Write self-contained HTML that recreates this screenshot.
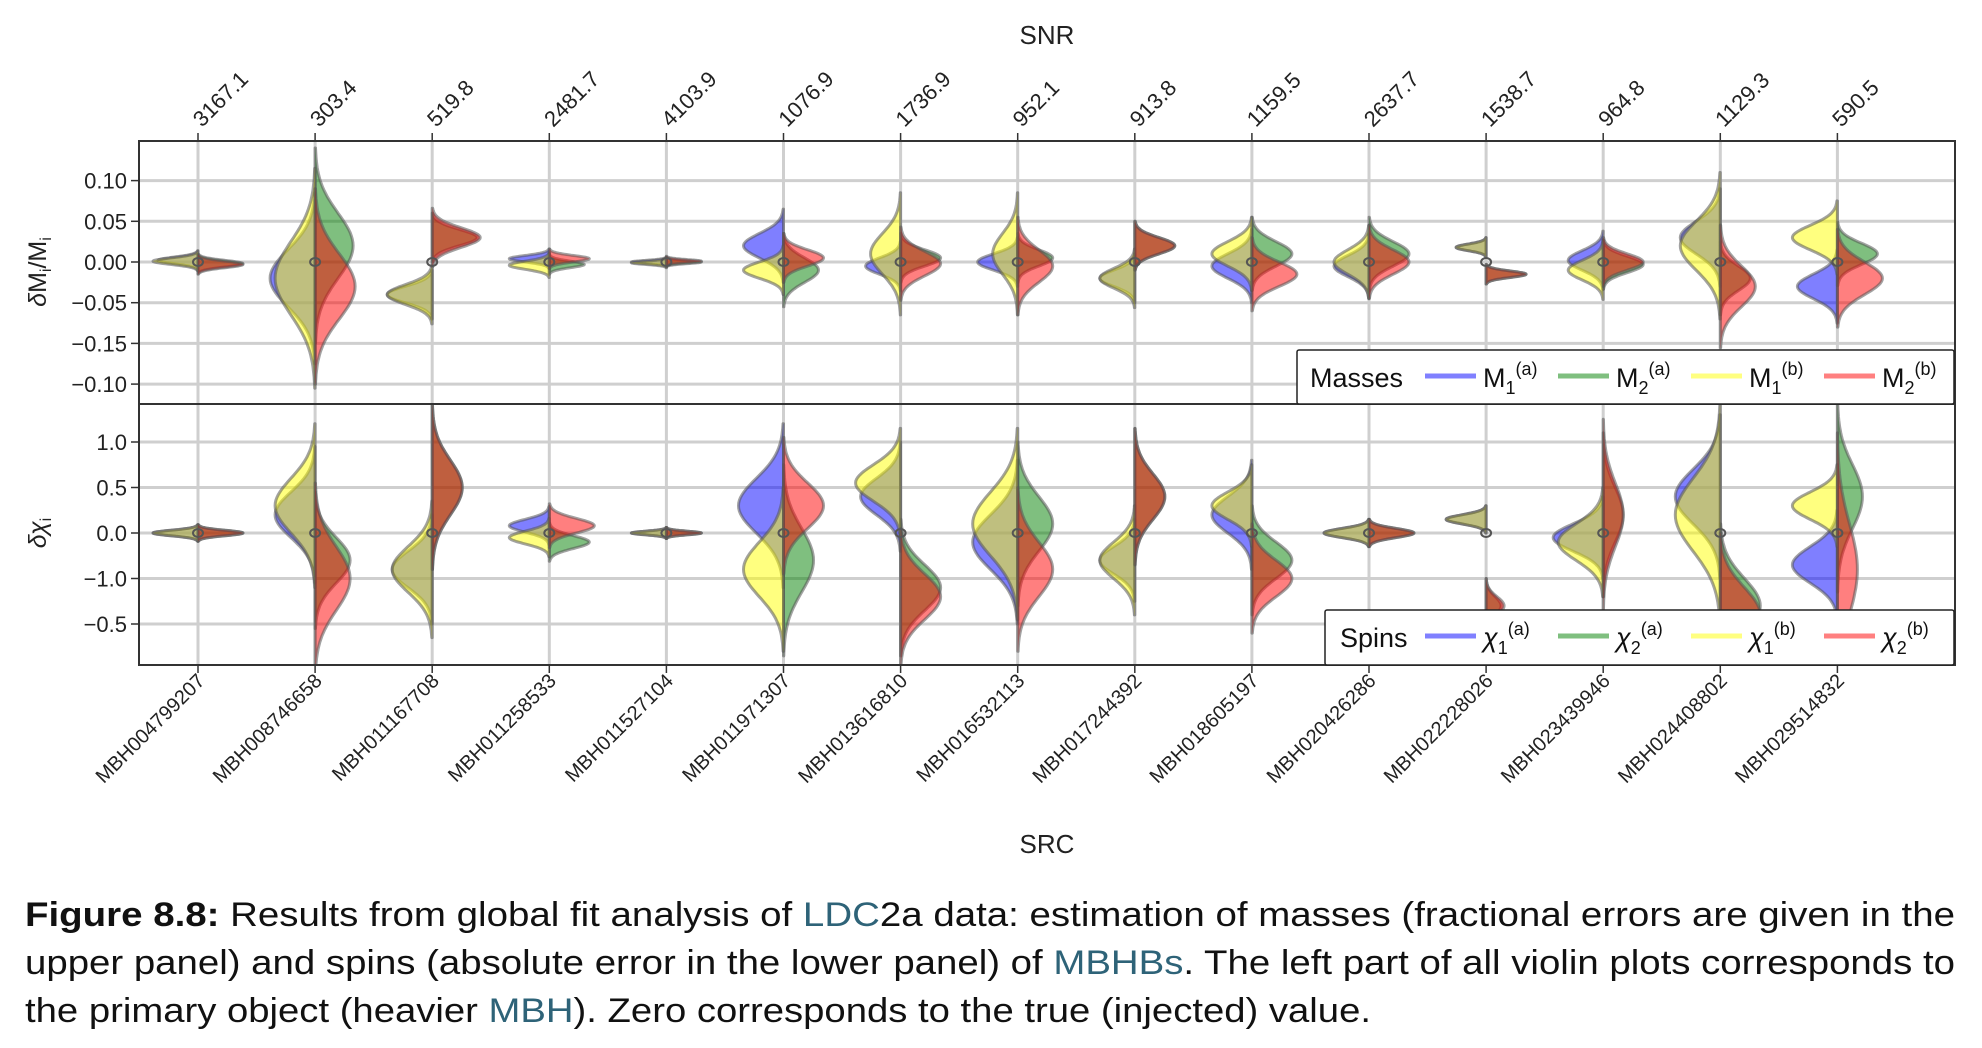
<!DOCTYPE html>
<html><head><meta charset="utf-8"><style>
html,body{margin:0;padding:0;background:#fff;}
svg{display:block;font-family:"Liberation Sans",sans-serif;}
</style></head><body>
<svg id="fig" width="1982" height="1048" viewBox="0 0 1982 1048">
<defs>
<clipPath id="clipTop"><rect x="139" y="141" width="1816" height="263"/></clipPath>
<clipPath id="clipBot"><rect x="139" y="404" width="1816" height="261"/></clipPath>
</defs>
<g id="gridTop"></g>
<g id="gridBot"></g>
<g id="violTop" clip-path="url(#clipTop)"></g>
<g id="violBot" clip-path="url(#clipBot)"></g>
<rect x="139" y="141" width="1816" height="263" fill="none" stroke="#333" stroke-width="2"/>
<rect x="139" y="404" width="1816" height="261" fill="none" stroke="#333" stroke-width="2"/>
<g id="axes"></g>
<text x="1047" y="44" font-size="26" text-anchor="middle" fill="#222">SNR</text>
<text x="1047" y="853" font-size="26" text-anchor="middle" fill="#222">SRC</text>
<text transform="translate(46,272) rotate(-90)" font-size="25" text-anchor="middle" fill="#222"><tspan font-style="italic">δ</tspan>M<tspan font-size="16" dy="5">i</tspan><tspan dy="-5">/M</tspan><tspan font-size="16" dy="5">i</tspan></text>
<text transform="translate(46,533) rotate(-90)" font-size="25" text-anchor="middle" fill="#222"><tspan font-style="italic">δχ</tspan><tspan font-size="16" dy="5">i</tspan></text>

<g>
<rect x="1297" y="350" width="657" height="54" fill="#fff" stroke="#222" stroke-width="1.5" rx="2"/>
<text x="1310" y="387" font-size="27" fill="#111">Masses</text>
<line x1="1425" y1="376" x2="1476" y2="376" stroke="#8080ff" stroke-width="5"/>
<text x="1483" y="387" font-size="27" fill="#111">M<tspan font-size="18" dy="7">1</tspan><tspan font-size="18" dy="-19">(a)</tspan></text>
<line x1="1558" y1="376" x2="1609" y2="376" stroke="#7fbf7f" stroke-width="5"/>
<text x="1616" y="387" font-size="27" fill="#111">M<tspan font-size="18" dy="7">2</tspan><tspan font-size="18" dy="-19">(a)</tspan></text>
<line x1="1691" y1="376" x2="1742" y2="376" stroke="#ffff80" stroke-width="5"/>
<text x="1749" y="387" font-size="27" fill="#111">M<tspan font-size="18" dy="7">1</tspan><tspan font-size="18" dy="-19">(b)</tspan></text>
<line x1="1824" y1="376" x2="1875" y2="376" stroke="#ff8080" stroke-width="5"/>
<text x="1882" y="387" font-size="27" fill="#111">M<tspan font-size="18" dy="7">2</tspan><tspan font-size="18" dy="-19">(b)</tspan></text>
</g>
<g>
<rect x="1325" y="610" width="629" height="55" fill="#fff" stroke="#222" stroke-width="1.5" rx="2"/>
<text x="1340" y="647" font-size="27" fill="#111">Spins</text>
<line x1="1425" y1="636" x2="1476" y2="636" stroke="#8080ff" stroke-width="5"/>
<text x="1483" y="647" font-size="27" fill="#111" font-style="italic">χ<tspan font-style="normal" font-size="18" dy="7">1</tspan><tspan font-style="normal" font-size="18" dy="-19">(a)</tspan></text>
<line x1="1558" y1="636" x2="1609" y2="636" stroke="#7fbf7f" stroke-width="5"/>
<text x="1616" y="647" font-size="27" fill="#111" font-style="italic">χ<tspan font-style="normal" font-size="18" dy="7">2</tspan><tspan font-style="normal" font-size="18" dy="-19">(a)</tspan></text>
<line x1="1691" y1="636" x2="1742" y2="636" stroke="#ffff80" stroke-width="5"/>
<text x="1749" y="647" font-size="27" fill="#111" font-style="italic">χ<tspan font-style="normal" font-size="18" dy="7">1</tspan><tspan font-style="normal" font-size="18" dy="-19">(b)</tspan></text>
<line x1="1824" y1="636" x2="1875" y2="636" stroke="#ff8080" stroke-width="5"/>
<text x="1882" y="647" font-size="27" fill="#111" font-style="italic">χ<tspan font-style="normal" font-size="18" dy="7">2</tspan><tspan font-style="normal" font-size="18" dy="-19">(b)</tspan></text>
</g>

<g font-size="34" fill="#111">
<text x="25" y="926" textLength="1930" lengthAdjust="spacingAndGlyphs"><tspan font-weight="bold">Figure 8.8:</tspan> Results from global fit analysis of <tspan fill="#2e6378">LDC</tspan>2a data: estimation of masses (fractional errors are given in the</text>
<text x="25" y="974" textLength="1930" lengthAdjust="spacingAndGlyphs">upper panel) and spins (absolute error in the lower panel) of <tspan fill="#2e6378">MBHBs</tspan>. The left part of all violin plots corresponds to</text>
<text x="25" y="1022" textLength="1346" lengthAdjust="spacingAndGlyphs">the primary object (heavier <tspan fill="#2e6378">MBH</tspan>). Zero corresponds to the true (injected) value.</text>
</g>
</svg>
<script>
// ---- data ----
const sources = ["MBH004799207","MBH008746658","MBH011167708","MBH011258533","MBH011527104","MBH011971307","MBH013616810","MBH016532113","MBH017244392","MBH018605197","MBH020426286","MBH022228026","MBH023439946","MBH024408802","MBH029514832"];
const snrLabels = ["3167.1","303.4","519.8","2481.7","4103.9","1076.9","1736.9","952.1","913.8","1159.5","2637.7","1538.7","964.8","1129.3","590.5"];
const massTicks = [0.10,0.05,0.00,-0.05,-0.10,-0.15];
const massTickLabels = ["0.10","0.05","0.00","\u22120.05","\u22120.15","\u22120.10"];
const spinTicks = [1.0,0.5,0.0,-0.5,-1.0];
const spinTickLabels = ["1.0","0.5","0.0","\u22121.0","\u22120.5"];
// masses: mean, sd, half-width (px) per series
const m1aMean=[0.002,-0.02,-0.04,0.004,0,0.02,-0.005,0,-0.02,-0.005,-0.005,0.018,0.002,0.03,-0.03];
const m1aSd  =[0.004,0.035,0.01,0.004,0.002,0.015,0.01,0.01,0.01,0.015,0.013,0.004,0.012,0.02,0.015];
const m1aW   =[40,45,45,40,35,40,35,40,35,40,35,30,35,40,40];
const m1bMean=[0.001,-0.02,-0.04,-0.004,-0.001,-0.01,0.01,0.01,-0.02,0.01,0,0.018,-0.01,0.02,0.03];
const m1bSd  =[0.004,0.045,0.012,0.005,0.002,0.01,0.025,0.025,0.012,0.015,0.015,0.004,0.012,0.03,0.015];
const m1bW   =[45,40,45,40,35,40,30,25,35,40,35,30,35,40,45];
const m2aMean=[-0.002,0.02,0.03,-0.003,0,-0.01,0.005,0.005,0.02,0.01,0.01,-0.015,-0.003,-0.02,0.01];
const m2aSd  =[0.004,0.04,0.01,0.004,0.002,0.015,0.01,0.01,0.01,0.015,0.015,0.004,0.01,0.015,0.013];
const m2aW   =[45,38,45,35,35,35,40,35,40,40,40,40,40,30,40];
const m2bMean=[-0.003,-0.03,0.03,0.004,0.001,0.005,-0.002,-0.005,0.02,-0.015,0,-0.015,0,-0.03,-0.02];
const m2bSd  =[0.004,0.04,0.012,0.004,0.002,0.01,0.015,0.02,0.01,0.015,0.015,0.004,0.01,0.025,0.02];
const m2bW   =[45,40,48,40,35,40,40,35,40,45,40,40,40,35,45];
// spins
const s1aMean=[0,0.2,-0.4,0.08,0,0.3,0.4,-0.1,-0.3,0.2,0,0.15,-0.05,0.4,-0.35];
const s1aSd  =[0.03,0.25,0.2,0.07,0.02,0.3,0.2,0.3,0.15,0.2,0.05,0.05,0.15,0.3,0.2];
const s1aW   =[45,40,40,40,35,45,40,45,35,40,45,40,50,45,45];
const s1bMean=[0,0.3,-0.4,-0.05,0,-0.4,0.55,0.1,-0.3,0.3,0,0.15,-0.1,0.2,0.3];
const s1bSd  =[0.03,0.3,0.25,0.07,0.02,0.3,0.2,0.35,0.2,0.15,0.05,0.05,0.2,0.4,0.15];
const s1bW   =[45,40,40,40,35,40,45,45,35,40,45,40,45,45,45];
const s2aMean=[0,-0.3,0.5,-0.1,0,-0.3,-0.6,0.1,0.4,-0.3,0,-0.8,0.2,-0.8,0.4];
const s2aSd  =[0.03,0.25,0.3,0.07,0.02,0.35,0.25,0.3,0.25,0.2,0.05,0.1,0.3,0.3,0.35];
const s2aW   =[45,35,30,40,35,30,40,35,30,40,45,15,20,40,25];
const s2bMean=[0,-0.5,0.5,0.08,0,0.3,-0.7,-0.4,0.4,-0.5,0,-0.8,0.2,-0.9,-0.4];
const s2bSd  =[0.03,0.35,0.3,0.08,0.02,0.25,0.25,0.3,0.25,0.2,0.05,0.1,0.35,0.3,0.5];
const s2bW   =[45,35,30,45,35,40,40,35,30,40,45,18,20,40,20];

// ---- scales ----
const NS="http://www.w3.org/2000/svg";
const X0=198, DX=117.1, L=139, R=1955;
function xPos(i){return X0+DX*i;}
function yMass(v){return 262-v*814;}
function ySpin(v){return 533-v*91;}
function mk(tag,attrs,parent){const e=document.createElementNS(NS,tag);for(const k in attrs)e.setAttribute(k,attrs[k]);parent.appendChild(e);return e;}

const gridTop=document.getElementById('gridTop'), gridBot=document.getElementById('gridBot'), axes=document.getElementById('axes');
massTicks.forEach((v,i)=>{
  const ln=mk('line',{x1:L,x2:R,y1:yMass(v),y2:yMass(v),stroke:'#cfcfcf','stroke-width':3},gridTop);
  
  
  const tk=mk('line',{x1:L-8,x2:L,y1:yMass(v),y2:yMass(v),stroke:'#333','stroke-width':1.5},axes);
  
  
  const t=mk('text',{x:L-12,y:yMass(v)+8,'font-size':22,'text-anchor':'end',fill:'#222'},axes);
  t.textContent=massTickLabels[i];
  
  
});
spinTicks.forEach((v,i)=>{
  const ln=mk('line',{x1:L,x2:R,y1:ySpin(v),y2:ySpin(v),stroke:'#cfcfcf','stroke-width':3},gridBot);
  
  
  const tk=mk('line',{x1:L-8,x2:L,y1:ySpin(v),y2:ySpin(v),stroke:'#333','stroke-width':1.5},axes);
  
  
  const t=mk('text',{x:L-12,y:ySpin(v)+8,'font-size':22,'text-anchor':'end',fill:'#222'},axes);
  t.textContent=spinTickLabels[i];
  
  
});
sources.forEach((s,i)=>{
  const x=xPos(i);
  const v1=mk('line',{x1:x,x2:x,y1:141,y2:404,stroke:'#cfcfcf','stroke-width':3},gridTop);
  
  
  const v2=mk('line',{x1:x,x2:x,y1:404,y2:665,stroke:'#cfcfcf','stroke-width':3},gridBot);
  
  
  const tk=mk('line',{x1:x,x2:x,y1:133,y2:141,stroke:'#333','stroke-width':1.5},axes);
  
  
  const tb=mk('line',{x1:x,x2:x,y1:665,y2:673,stroke:'#333','stroke-width':1.5},axes);
  
  
  const st=mk('text',{transform:`translate(${x+4},128) rotate(-45)`,'font-size':22,fill:'#222'},axes);
  st.textContent=snrLabels[i];
  
  
  const xt=mk('text',{transform:`translate(${x+8},682) rotate(-45)`,'font-size':20,fill:'#222','text-anchor':'end'},axes);
  xt.textContent=s;
  
  
});

function halfViolin(parent,x,mean,sd,w,side,yf,color,name){
  const pts=[];const n=60;
  for(let k=0;k<=n;k++){const v=mean-3*sd+6*sd*k/n;const d=w*Math.exp(-0.5*((v-mean)/sd)**2);pts.push([x+side*d,yf(v)]);}
  let dstr=`M${x},${yf(mean-3*sd)} `+pts.map(p=>`L${p[0].toFixed(1)},${p[1].toFixed(1)}`).join(' ')+` L${x},${yf(mean+3*sd)} Z`;
  const p=mk('path',{d:dstr,fill:color,'fill-opacity':0.5,stroke:'#555','stroke-opacity':0.55,'stroke-width':3,'stroke-linejoin':'round'},parent);
  
  
}
const vt=document.getElementById('violTop'), vb=document.getElementById('violBot');
sources.forEach((s,i)=>{
  const x=xPos(i);
  halfViolin(vt,x,m1aMean[i],m1aSd[i],m1aW[i],-1,yMass,'#0000ff','violin-m1-a');
  halfViolin(vt,x,m2aMean[i],m2aSd[i],m2aW[i],1,yMass,'#008000','violin-m2-a');
  halfViolin(vt,x,m1bMean[i],m1bSd[i],m1bW[i],-1,yMass,'#ffff00','violin-m1-b');
  halfViolin(vt,x,m2bMean[i],m2bSd[i],m2bW[i],1,yMass,'#ff0000','violin-m2-b');
  halfViolin(vb,x,s1aMean[i],s1aSd[i],s1aW[i],-1,ySpin,'#0000ff','violin-chi1-a');
  halfViolin(vb,x,s2aMean[i],s2aSd[i],s2aW[i],1,ySpin,'#008000','violin-chi2-a');
  halfViolin(vb,x,s1bMean[i],s1bSd[i],s1bW[i],-1,ySpin,'#ffff00','violin-chi1-b');
  halfViolin(vb,x,s2bMean[i],s2bSd[i],s2bW[i],1,ySpin,'#ff0000','violin-chi2-b');
  const c1=mk('ellipse',{cx:x,cy:yMass(0),rx:5,ry:4,fill:'none',stroke:'#555','stroke-width':2},vt);
  
  
  const c2=mk('ellipse',{cx:x,cy:ySpin(0),rx:5,ry:4,fill:'none',stroke:'#555','stroke-width':2},vb);
  
  
});
</script>
</body></html>
